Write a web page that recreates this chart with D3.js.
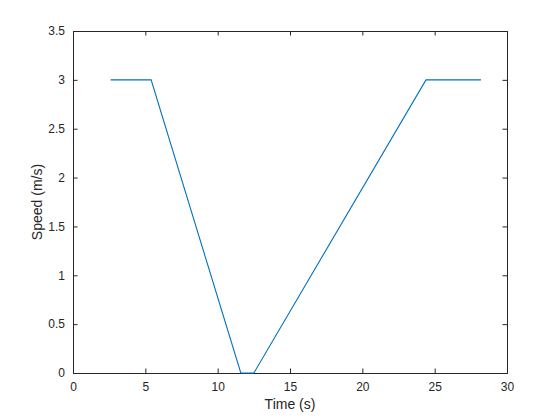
<!DOCTYPE html>
<html>
<head>
<meta charset="utf-8">
<script src="https://cdn.jsdelivr.net/npm/d3@7"></script>
<style>
  body { margin: 0; background: #fff; }
  svg { font-family: "Liberation Sans", Arial, sans-serif; }
</style>
</head>
<body>
<svg id="chart" width="560" height="420"></svg>
<script>
// speed profile
const time = [2.6, 5.4, 11.6, 12.5, 24.4, 28.2];
const speed = [3, 3, 0, 0, 3, 3];
const xTicks = [0, 5, 10, 15, 20, 25, 30];
const yTicks = [0, 0.5, 1, 1.5, 2, 2.5, 3, 3.5];

const svg = d3.select('#chart');
const plotLeft = 73, plotRight = 507, plotTop = 31, plotBottom = 373;
const axisColor = '#262626';

const x = d3.scaleLinear().domain([0, 30]).range([plotLeft, plotRight]);
const y = d3.scaleLinear().domain([0, 3.5]).range([plotBottom, plotTop]);

const tickLen = 4.5;
const fmt = d => String(d);

// bottom axis, ticks pointing inward
svg.append('g')
  .attr('transform', `translate(0,${plotBottom})`)
  .call(d3.axisBottom(x).tickValues(xTicks).tickFormat(fmt).tickSizeInner(-tickLen).tickSizeOuter(0).tickPadding(9));
// top edge ticks
svg.append('g')
  .attr('transform', `translate(0,${plotTop})`)
  .call(d3.axisTop(x).tickValues(xTicks).tickSizeInner(-tickLen).tickSizeOuter(0).tickFormat(''));

svg.append('g')
  .attr('transform', `translate(${plotLeft},0)`)
  .call(d3.axisLeft(y).tickValues(yTicks).tickFormat(fmt).tickSizeInner(-tickLen).tickSizeOuter(0).tickPadding(8));
svg.append('g')
  .attr('transform', `translate(${plotRight},0)`)
  .call(d3.axisRight(y).tickValues(yTicks).tickSizeInner(-tickLen).tickSizeOuter(0).tickFormat(''));

svg.selectAll('.domain').remove();
svg.selectAll('.tick line').attr('stroke', axisColor);
svg.selectAll('.tick text')
  .attr('fill', axisColor)
  .style('font-size', '12px')
  .style('font-family', '"Liberation Sans", Arial, sans-serif');

// axes box
svg.append('rect')
  .attr('x', plotLeft + 0.5).attr('y', plotTop + 0.5)
  .attr('width', plotRight - plotLeft).attr('height', plotBottom - plotTop)
  .attr('fill', 'none')
  .attr('stroke', axisColor)
  .attr('stroke-width', 1);

const line = d3.line()
  .x((d, i) => x(time[i]))
  .y(d => y(d));

svg.append('path')
  .datum(speed)
  .attr('d', line)
  .attr('fill', 'none')
  .attr('stroke', '#0072BD')
  .attr('stroke-width', 1.1);

svg.append('text')
  .attr('x', (plotLeft + plotRight) / 2)
  .attr('y', 409)
  .attr('text-anchor', 'middle')
  .attr('fill', axisColor)
  .style('font-size', '14px')
  .text('Time (s)');

svg.append('text')
  .attr('transform', `translate(42,${(plotTop + plotBottom) / 2}) rotate(-90)`)
  .attr('text-anchor', 'middle')
  .attr('fill', axisColor)
  .style('font-size', '14px')
  .text('Speed (m/s)');
</script>
</body>
</html>
